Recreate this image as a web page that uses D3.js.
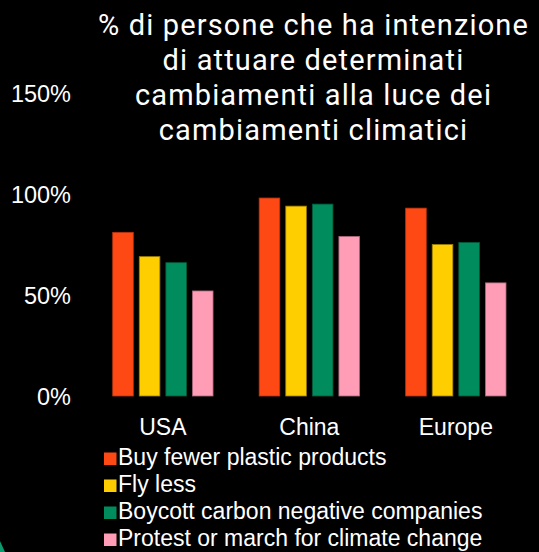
<!DOCTYPE html>
<html>
<head>
<meta charset="utf-8">
<script src="https://cdn.jsdelivr.net/npm/d3@7"></script>
<style>
  body { margin: 0; background: #000; }
  svg { display: block; }
</style>
</head>
<body>
<div id="myChart"></div>
<script>
// chart data
const countries = ["USA", "China", "Europe"];
const series = ["Buy fewer plastic products", "Fly less", "Boycott carbon negative companies", "Protest or march for climate change"];
const usaValues = [81, 69, 66, 52];
const chinaValues = [98, 94, 95, 79];
const europeValues = [93, 75, 76, 56];
const yTicks = [0, 50, 100, 150];
const titleLines = ["% di persone che ha intenzione", "di attuare determinati", "cambiamenti alla luce dei", "cambiamenti climatici"];

const colors = ["#FF4915", "#FFCE00", "#008C5C", "#FF9CB6"];
const strokes = ["#B83410", "#9C7E00", "#005A3B", "#A8667A"];

const rows = [usaValues, chinaValues, europeValues].map(function (vals, i) {
    return { country: countries[i], values: vals };
});

let width = 539, height = 552;

let svg = d3.select('#myChart')
    .append('svg')
    .attr('width', width)
    .attr('height', height);

svg.append("rect")
    .attr("width", width)
    .attr("height", height)
    .attr("fill", "#000");

// little green corner bit
svg.append("path")
    .attr("d", "M0,541 L5,552 L0,552 Z")
    .attr("fill", "#0B9A6E");

// title, one text per line
svg.append("g")
    .selectAll("text")
    .data(titleLines)
    .enter()
    .append("text")
    .attr("text-anchor", "middle")
    .attr("fill", "#fff")
    .style("font-family", "Roboto, sans-serif")
    .style("font-size", "29px")
    .style("letter-spacing", "1.15px")
    .attr("x", 313.5)
    .attr("y", function (d, i) { return 35 + i * 35; })
    .text(function (d) { return d; });

// scales
var x0 = d3.scaleBand()
    .domain(countries)
    .range([112.7, 506])
    .paddingInner(0.315)
    .paddingOuter(0);

var x1 = d3.scaleBand()
    .domain(series)
    .range([0, x0.bandwidth()])
    .paddingInner(0.225);

var y = d3.scaleLinear()
    .domain([0, 150])
    .range([396, 93]);

// Y axis labels
var yAxis = svg.append("g")
    .attr("transform", "translate(71,0)")
    .call(d3.axisLeft(y).tickValues(yTicks).tickSize(0).tickPadding(0).tickFormat(function (d) { return d + "%"; }));
yAxis.select(".domain").remove();
yAxis.selectAll("text")
    .attr("fill", "#fff")
    .attr("dy", "0.36em")
    .style("font-family", "'Liberation Sans', Arial, sans-serif")
    .style("font-size", "23.5px");

// X axis labels
var xAxis = svg.append("g")
    .attr("transform", "translate(0,419)")
    .call(d3.axisBottom(x0).tickSize(0).tickPadding(0));
xAxis.select(".domain").remove();
xAxis.selectAll("text")
    .attr("fill", "#fff")
    .attr("dy", "0.71em")
    .style("font-family", "'Liberation Sans', Arial, sans-serif")
    .style("font-size", "23px");

// bars
svg.append("g")
    .selectAll("g")
    .data(rows)
    .enter()
    .append("g")
    .attr("transform", function (d) { return "translate(" + x0(d.country) + ",0)"; })
    .selectAll("rect")
    .data(function (d) { return d.values; })
    .enter()
    .append("rect")
    .attr("x", function (d, i) { return x1(series[i]); })
    .attr("y", function (d) { return y(d); })
    .attr("width", x1.bandwidth())
    .attr("height", function (d) { return y(0) - y(d); })
    .attr("fill", function (d, i) { return colors[i]; })
    .attr("stroke", function (d, i) { return strokes[i]; })
    .attr("stroke-width", 0.8);

// legend
var legend = svg.append("g")
    .selectAll("g")
    .data(series)
    .enter()
    .append("g")
    .attr("transform", function (d, i) { return "translate(104," + (465 + i * 27) + ")"; });

legend.append("rect")
    .attr("x", 0)
    .attr("y", -12.5)
    .attr("width", 12.5)
    .attr("height", 12.5)
    .attr("fill", function (d, i) { return colors[i]; });

legend.append("text")
    .attr("x", 14)
    .attr("y", 0)
    .attr("fill", "#fff")
    .style("font-family", "'Liberation Sans', Arial, sans-serif")
    .style("font-size", "23px")
    .text(function (d) { return d; });
</script>
</body>
</html>
